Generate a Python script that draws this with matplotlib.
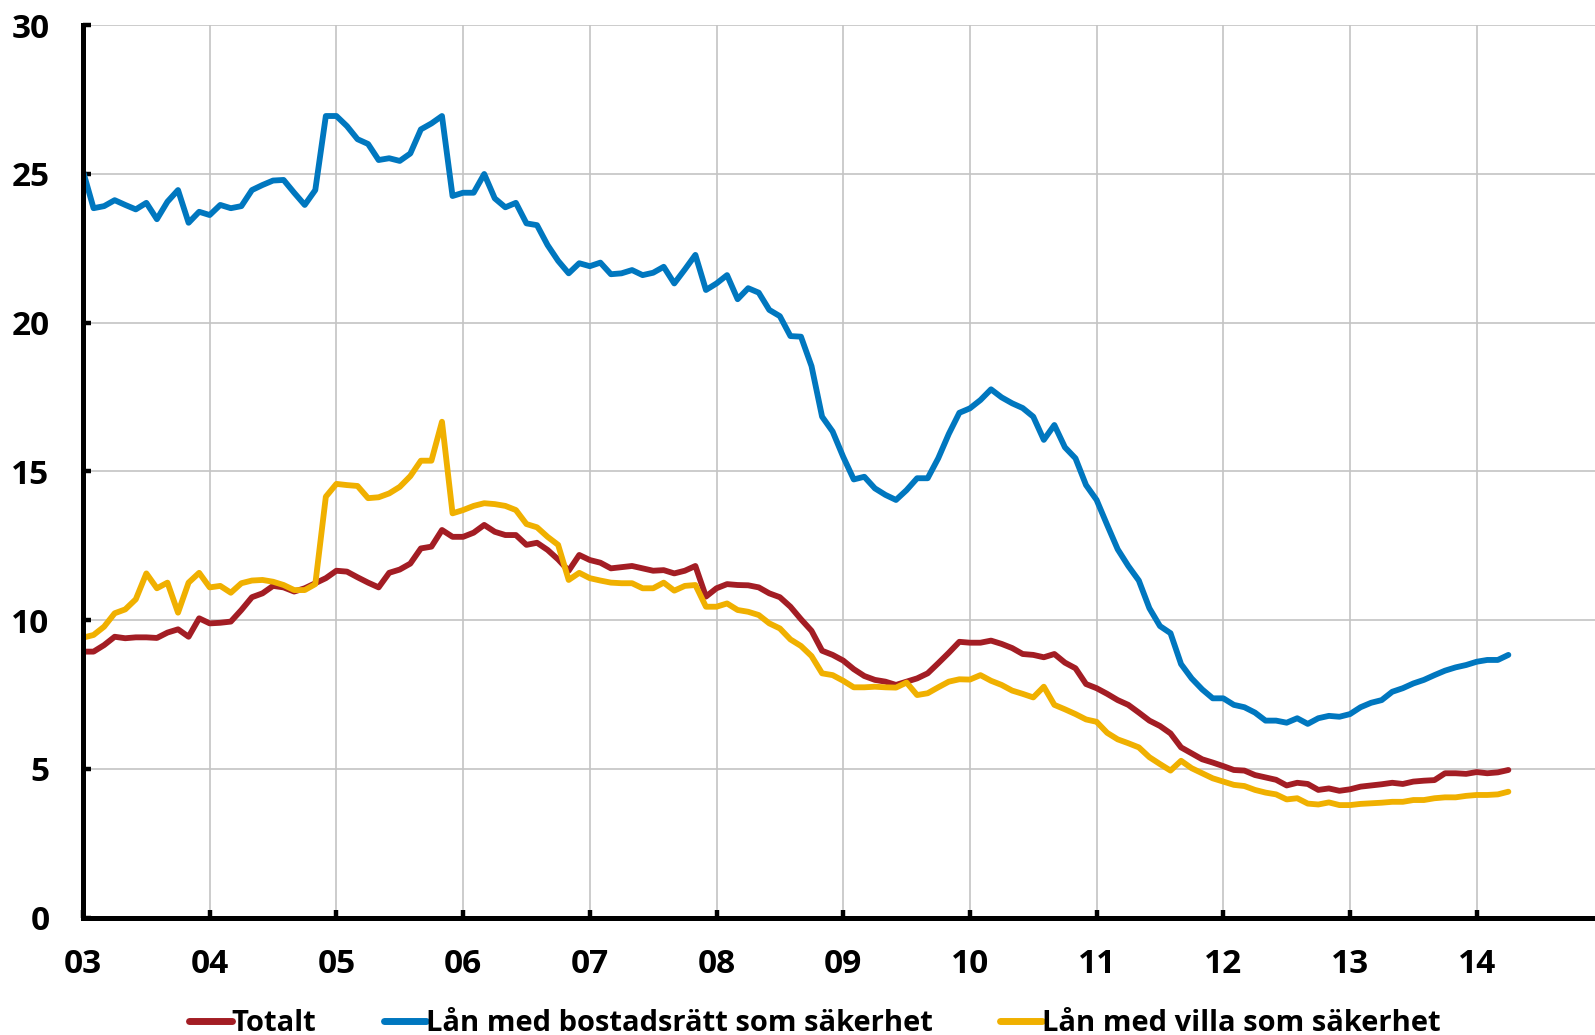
import numpy as np
import matplotlib
matplotlib.use("Agg")
import matplotlib.pyplot as plt

# ---- data (monthly, Jan 2003 - Apr 2014) ----
start_year = 2003
year_ticks = list(range(2003, 2015))
year_labels = ["03", "04", "05", "06", "07", "08", "09", "10", "11", "12", "13", "14"]
y_ticks = [0, 5, 10, 15, 20, 25, 30]

totalt = [
    8.94, 8.94, 9.16, 9.44, 9.39, 9.42, 9.42, 9.40, 9.58, 9.69, 9.44, 10.06,
    9.89, 9.91, 9.95, 10.34, 10.77, 10.90, 11.15, 11.10, 10.96, 11.07, 11.24, 11.41,
    11.66, 11.63, 11.44, 11.26, 11.10, 11.59, 11.70, 11.90, 12.41, 12.47, 13.03, 12.80,
    12.80, 12.94, 13.20, 12.97, 12.86, 12.86, 12.53, 12.60, 12.36, 12.04, 11.66, 12.19,
    12.02, 11.93, 11.74, 11.78, 11.82, 11.74, 11.66, 11.68, 11.57, 11.66, 11.82, 10.79,
    11.07, 11.21, 11.18, 11.17, 11.10, 10.90, 10.77, 10.45, 10.03, 9.64, 8.97, 8.83,
    8.64, 8.35, 8.12, 7.99, 7.93, 7.82, 7.93, 8.04, 8.21, 8.55, 8.90, 9.27,
    9.24, 9.24, 9.31, 9.20, 9.06, 8.86, 8.83, 8.75, 8.86, 8.57, 8.38, 7.85,
    7.71, 7.52, 7.31, 7.15, 6.89, 6.62, 6.44, 6.19, 5.72, 5.52, 5.32, 5.21,
    5.09, 4.96, 4.94, 4.79, 4.71, 4.63, 4.44, 4.53, 4.49, 4.29, 4.34, 4.26,
    4.31, 4.40, 4.44, 4.48, 4.53, 4.49, 4.57, 4.60, 4.62, 4.85, 4.85, 4.83,
    4.89, 4.85, 4.88, 4.96,
]

bostadsratt = [
    25.10, 23.85, 23.92, 24.12, 23.96, 23.81, 24.03, 23.48, 24.07, 24.46, 23.36, 23.73,
    23.62, 23.96, 23.85, 23.92, 24.46, 24.63, 24.78, 24.80, 24.37, 23.96, 24.46, 26.95,
    26.95, 26.61, 26.17, 26.01, 25.47, 25.53, 25.44, 25.69, 26.50, 26.70, 26.95, 24.26,
    24.37, 24.37, 25.00, 24.18, 23.88, 24.03, 23.34, 23.28, 22.61, 22.08, 21.66, 22.00,
    21.90, 22.02, 21.63, 21.66, 21.77, 21.60, 21.68, 21.88, 21.32, 21.79, 22.28, 21.10,
    21.32, 21.60, 20.79, 21.16, 21.01, 20.43, 20.22, 19.55, 19.53, 18.54, 16.84, 16.34,
    15.49, 14.73, 14.82, 14.43, 14.21, 14.04, 14.37, 14.77, 14.77, 15.44, 16.26, 16.97,
    17.12, 17.40, 17.76, 17.49, 17.29, 17.13, 16.84, 16.06, 16.56, 15.81, 15.44, 14.54,
    14.04, 13.20, 12.38, 11.82, 11.33, 10.40, 9.80, 9.56, 8.52, 8.04, 7.67, 7.37,
    7.37, 7.15, 7.07, 6.89, 6.62, 6.62, 6.55, 6.70, 6.51, 6.70, 6.78, 6.75,
    6.84, 7.07, 7.22, 7.31, 7.59, 7.71, 7.87, 7.99, 8.15, 8.30, 8.41, 8.49,
    8.60, 8.66, 8.66, 8.83,
]

villa = [
    9.41, 9.50, 9.78, 10.23, 10.36, 10.70, 11.57, 11.07, 11.26, 10.25, 11.26, 11.59,
    11.10, 11.15, 10.92, 11.24, 11.33, 11.35, 11.29, 11.18, 11.01, 11.01, 11.21, 14.15,
    14.58, 14.54, 14.51, 14.10, 14.13, 14.26, 14.48, 14.84, 15.36, 15.36, 16.67, 13.59,
    13.70, 13.84, 13.93, 13.90, 13.84, 13.70, 13.23, 13.12, 12.80, 12.53, 11.35, 11.59,
    11.41, 11.33, 11.26, 11.24, 11.24, 11.07, 11.07, 11.26, 10.99, 11.15, 11.18, 10.45,
    10.45, 10.56, 10.34, 10.28, 10.17, 9.89, 9.72, 9.35, 9.13, 8.79, 8.21, 8.15,
    7.96, 7.74, 7.74, 7.76, 7.74, 7.73, 7.90, 7.48, 7.54, 7.74, 7.93, 8.01,
    8.00, 8.15, 7.96, 7.82, 7.63, 7.52, 7.40, 7.76, 7.15, 7.00, 6.84, 6.66,
    6.58, 6.21, 5.99, 5.86, 5.72, 5.39, 5.16, 4.94, 5.27, 5.02, 4.85, 4.68,
    4.57, 4.46, 4.42, 4.29, 4.20, 4.14, 3.97, 4.01, 3.83, 3.80, 3.87, 3.78,
    3.78, 3.82, 3.84, 3.86, 3.89, 3.89, 3.95, 3.95, 4.01, 4.04, 4.04, 4.09,
    4.12, 4.12, 4.14, 4.23,
]

series_names = ["Totalt", "Lån med bostadsrätt som säkerhet", "Lån med villa som säkerhet"]
series_colors = ["#a31d24", "#0077bf", "#f0b000"]

# ---- figure ----
plt.rcParams["font.family"] = ["Open Sans", "DejaVu Sans"]
plt.rcParams["font.weight"] = "bold"

W, H, DPI = 1595, 1035, 100
fig = plt.figure(figsize=(W / DPI, H / DPI), dpi=DPI)
left_px, top_px, bottom_px = 83, 25.3, 917.5
ax = fig.add_axes([left_px / W, 1 - bottom_px / H, 1 - left_px / W, (bottom_px - top_px) / H])

months = np.arange(len(totalt))
x = start_year + months / 12.0

for vals, name, col in zip([totalt, bostadsratt, villa], series_names, series_colors):
    ax.plot(x, vals, color=col, lw=4.2, label=name, solid_joinstyle="round",
            solid_capstyle="round", zorder=3)

ax.set_xlim(start_year, start_year + (W - left_px) / 126.7)
ax.set_ylim(0, 30)
ax.set_xticks(year_ticks)
ax.set_xticklabels(year_labels)
ax.set_yticks(y_ticks)

ax.grid(True, color="#c4c4c4", lw=1.2, zorder=0)
ax.set_axisbelow(True)

for s in ["top", "right"]:
    ax.spines[s].set_visible(False)
for s in ["left", "bottom"]:
    ax.spines[s].set_linewidth(3.6)
    ax.spines[s].set_color("black")
    ax.spines[s].set_zorder(4)

ax.tick_params(axis="both", direction="in", length=6, width=3.2, color="black",
               labelsize=24)
ax.tick_params(axis="y", pad=24)
ax.tick_params(axis="x", pad=22)
for lab in ax.get_xticklabels() + ax.get_yticklabels():
    lab.set_fontweight("bold")

leg = fig.legend(loc="center", bbox_to_anchor=(0.511, 0.011), ncol=3, frameon=False,
                 handlelength=1.45, handletextpad=0.0, columnspacing=2.3,
                 prop={"family": ["Open Sans", "DejaVu Sans"], "weight": "bold", "size": 21})
for line in leg.get_lines():
    line.set_linewidth(5.0)

fig.savefig("out.png", dpi=DPI)
